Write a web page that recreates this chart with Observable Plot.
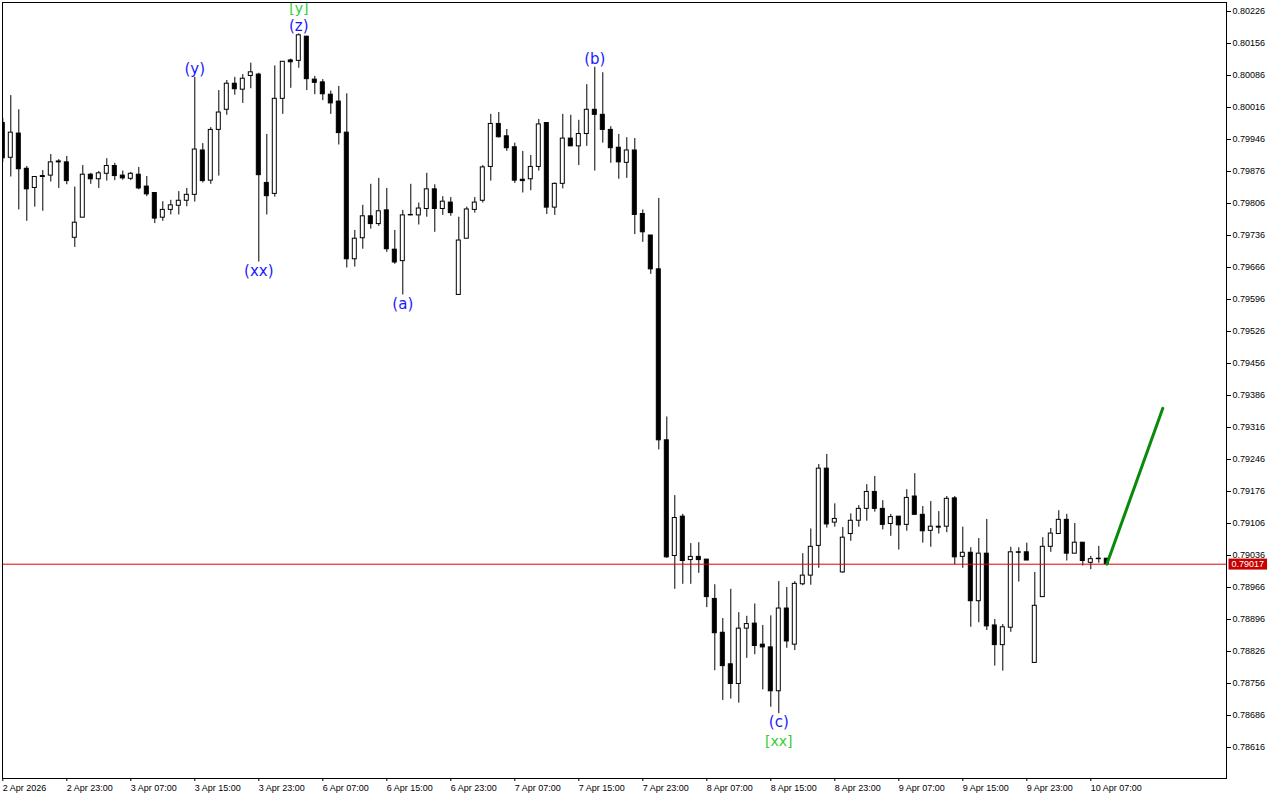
<!DOCTYPE html>
<html><head><meta charset="utf-8">
<script src="https://cdn.jsdelivr.net/npm/d3@7"></script>
<script src="https://cdn.jsdelivr.net/npm/@observablehq/plot@0.6"></script>
<style>html,body{margin:0;padding:0;background:#fff;overflow:hidden}#chart svg{display:block}</style>
</head><body><div id="chart"></div>
<script>
// H1 candles, index 0 = 2 Apr 2026 15:00
const opens = [0.79982,0.79906,0.79959,0.79882,0.79840,0.79866,0.79867,0.79898,0.79896,0.79731,
0.79775,0.79869,0.79859,0.79871,0.79888,0.79867,0.79860,0.79869,0.79843,0.79829,
0.79775,0.79792,0.79801,0.79812,0.79825,0.79922,0.79856,0.79967,0.80011,0.80068,
0.80055,0.80085,0.80088,0.79851,0.79827,0.80035,0.80119,0.80118,0.80171,0.80077,
0.80071,0.80044,0.80029,0.79961,0.79684,0.79730,0.79778,0.79761,0.79791,0.79705,
0.79680,0.79781,0.79780,0.79794,0.79837,0.79794,0.79808,0.79606,0.79729,0.79792,
0.79812,0.79886,0.79980,0.79953,0.79929,0.79858,0.79859,0.79886,0.79982,0.79797,
0.79849,0.79948,0.79931,0.79958,0.80011,0.80000,0.79967,0.79928,0.79895,0.79922,
0.79783,0.79736,0.79662,0.79288,0.79035,0.79121,0.79026,0.79033,0.79027,0.78941,
0.78867,0.78798,0.78755,0.78876,0.78887,0.78841,0.78835,0.78739,0.78920,0.78841,
0.78973,0.78992,0.79057,0.79226,0.79108,0.78999,0.79083,0.79112,0.79138,0.79175,
0.79138,0.79105,0.79121,0.79103,0.79165,0.79125,0.79090,0.79099,0.79099,0.79161,
0.79033,0.79042,0.78936,0.79040,0.78883,0.78840,0.78878,0.79043,0.79043,0.78801,
0.78945,0.79055,0.79083,0.79114,0.79040,0.79064,0.79020,0.79029,0.79029];
const highs = [0.79992,0.80042,0.80011,0.79887,0.79864,0.79878,0.79913,0.79902,0.79909,0.79842,
0.79889,0.79872,0.79876,0.79904,0.79894,0.79877,0.79874,0.79885,0.79865,0.79830,
0.79810,0.79813,0.79832,0.79839,0.80082,0.79937,0.79972,0.80053,0.80075,0.80082,
0.80088,0.80113,0.80091,0.79957,0.80107,0.80116,0.80122,0.80177,0.80171,0.80084,
0.80077,0.80052,0.80062,0.80046,0.79747,0.79802,0.79848,0.79861,0.79839,0.79747,
0.79791,0.79848,0.79807,0.79872,0.79847,0.79821,0.79819,0.79776,0.79798,0.79819,
0.79889,0.80001,0.80005,0.79968,0.79938,0.79920,0.79911,0.79990,0.79982,0.79851,
0.80001,0.79999,0.79988,0.80066,0.80104,0.80092,0.79974,0.79957,0.79950,0.79948,
0.79792,0.79736,0.79817,0.79339,0.79167,0.79126,0.79062,0.79064,0.79027,0.78972,
0.78898,0.78962,0.78911,0.78903,0.78930,0.78883,0.78904,0.78979,0.78966,0.78979,
0.79040,0.79094,0.79235,0.79257,0.79149,0.79097,0.79127,0.79145,0.79191,0.79209,
0.79156,0.79126,0.79121,0.79180,0.79215,0.79143,0.79154,0.79132,0.79165,0.79165,
0.79098,0.79053,0.79073,0.79115,0.78896,0.78885,0.79054,0.79053,0.79063,0.78999,
0.79075,0.79095,0.79134,0.79126,0.79106,0.79064,0.79034,0.79056,0.79029];
const lows = [0.79896,0.79864,0.79792,0.79767,0.79798,0.79789,0.79853,0.79839,0.79847,0.79710,
0.79775,0.79848,0.79839,0.79855,0.79856,0.79857,0.79856,0.79836,0.79821,0.79762,
0.79767,0.79781,0.79781,0.79799,0.79809,0.79851,0.79848,0.79866,0.79999,0.80043,
0.80025,0.80057,0.79678,0.79781,0.79820,0.80001,0.80058,0.80102,0.80053,0.80044,
0.80031,0.80001,0.79934,0.79665,0.79667,0.79706,0.79750,0.79756,0.79699,0.79673,
0.79606,0.79779,0.79759,0.79776,0.79743,0.79780,0.79778,0.79606,0.79729,0.79785,
0.79807,0.79855,0.79949,0.79920,0.79850,0.79829,0.79834,0.79877,0.79782,0.79780,
0.79838,0.79931,0.79889,0.79931,0.79877,0.79938,0.79894,0.79859,0.79861,0.79738,
0.79721,0.79651,0.79267,0.79030,0.78962,0.78973,0.78973,0.78997,0.78922,0.78784,
0.78719,0.78722,0.78713,0.78811,0.78819,0.78742,0.78704,0.78690,0.78833,0.78828,
0.78970,0.78971,0.79008,0.79096,0.79098,0.78997,0.79067,0.79098,0.79111,0.79131,
0.79092,0.79078,0.79048,0.79089,0.79125,0.79063,0.79054,0.79083,0.79086,0.79016,
0.79008,0.78879,0.78889,0.78872,0.78794,0.78783,0.78868,0.78978,0.79025,0.78801,
0.78945,0.79043,0.79083,0.79024,0.79040,0.79013,0.79005,0.79019,0.79017];
const closes = [0.79905,0.79961,0.79881,0.79837,0.79864,0.79864,0.79896,0.79896,0.79855,0.79764,
0.79869,0.79859,0.79872,0.79888,0.79866,0.79861,0.79871,0.79839,0.79826,0.79773,
0.79792,0.79802,0.79812,0.79825,0.79924,0.79855,0.79967,0.80005,0.80068,0.80056,
0.80079,0.80093,0.79868,0.79822,0.80035,0.80116,0.80115,0.80174,0.80078,0.80070,
0.80045,0.80025,0.79960,0.79684,0.79729,0.79778,0.79761,0.79789,0.79706,0.79677,
0.79780,0.79780,0.79795,0.79837,0.79794,0.79810,0.79785,0.79725,0.79793,0.79808,
0.79885,0.79980,0.79951,0.79927,0.79856,0.79855,0.79886,0.79979,0.79797,0.79849,
0.79948,0.79931,0.79958,0.80011,0.80000,0.79967,0.79927,0.79896,0.79922,0.79781,
0.79743,0.79662,0.79288,0.79032,0.79118,0.79024,0.79033,0.79026,0.78945,0.78866,
0.78794,0.78755,0.78876,0.78886,0.78838,0.78835,0.78739,0.78920,0.78848,0.78974,
0.78992,0.79055,0.79226,0.79104,0.79116,0.79075,0.79112,0.79138,0.79175,0.79138,
0.79103,0.79120,0.79102,0.79162,0.79125,0.79089,0.79099,0.79097,0.79160,0.79032,
0.79042,0.78936,0.79040,0.78881,0.78840,0.78879,0.79043,0.79042,0.79025,0.78926,
0.79055,0.79084,0.79114,0.79040,0.79064,0.79024,0.79028,0.79028,0.79017];

const xTickIndex = [0,8,16,24,32,40,48,56,64,72,80,88,96,104,112,120,128,136];
const xTickLabels = ["2 Apr 2026","2 Apr 23:00","3 Apr 07:00","3 Apr 15:00","3 Apr 23:00","6 Apr 07:00",
"6 Apr 15:00","6 Apr 23:00","7 Apr 07:00","7 Apr 15:00","7 Apr 23:00","8 Apr 07:00","8 Apr 15:00",
"8 Apr 23:00","9 Apr 07:00","9 Apr 15:00","9 Apr 23:00","10 Apr 07:00"];
const yTicks = [0.78616,0.78686,0.78756,0.78826,0.78896,0.78966,0.79036,0.79106,0.79176,0.79246,
0.79316,0.79386,0.79456,0.79526,0.79596,0.79666,0.79736,0.79806,0.79876,0.79946,0.80016,0.80086,
0.80156,0.80226];
const currentPrice = 0.79017;

const waveText  = ["(y)","(xx)","[y]","(z)","(a)","(b)","(c)","[xx]"];
const waveIndex = [24,32,37,37,50,74,97,97];
const waveSide  = ["top","bottom","top","top","bottom","top","bottom","bottom"];

const forecastIndex = [138,145];
const forecastPrice = [0.79017,0.79358];

const candles = opens.map((o,i)=>({i, o, h: highs[i], l: lows[i], c: closes[i]}));
const waves = waveText.map((t,k)=>{
  const d = candles[waveIndex[k]];
  const top = waveSide[k]==="top";
  return {t, i:d.i, p: top ? d.h : d.l, top, bracket: t.startsWith("[")};
});
const forecast = forecastIndex.map((i,k)=>({i, p: forecastPrice[k]}));

const waveFont = "'DejaVu Sans', sans-serif";
const waveMark = (top, bracket, dy) => Plot.text(waves.filter(w=>w.top===top && w.bracket===bracket), {
  x:"i", y:"p", text:"t", dy, fontSize: bracket ? 14 : 15, fontFamily: waveFont,
  fill: bracket ? "#33cc33" : "#1a1aff", lineAnchor:"middle"
});

const chart = Plot.plot({
  width:1280, height:800,
  marginLeft:2, marginRight:54, marginTop:2, marginBottom:22,
  style:{background:"#fff", fontFamily:"'Liberation Sans', Arial, sans-serif", fontSize:"9px", color:"#000"},
  x:{domain:[-0.0375,152.9625], label:null},
  y:{domain:[0.785482,0.802457], label:null},
  marks:[
    Plot.ruleX(candles, {x:"i", y1:"l", y2:"h", stroke:"#000", strokeWidth:1, clip:true}),
    Plot.rect(candles, {x1:d=>d.i-0.25, x2:d=>d.i+0.25, y1:"o", y2:"c",
      fill:d=>d.c>=d.o ? "#ffffff" : "#000000", stroke:"#000", strokeWidth:1, clip:true}),
    Plot.ruleY(candles.filter(d=>d.o===d.c), {y:"o", x1:d=>d.i-0.3, x2:d=>d.i+0.3, stroke:"#000", clip:true}),
    Plot.ruleY([currentPrice], {stroke:"#e00000", strokeWidth:1}),
    Plot.line(forecast, {x:"i", y:"p", stroke:"#0a8a0a", strokeWidth:3}),
    waveMark(true,false,-8),
    waveMark(true,true,-25),
    waveMark(false,false,9),
    waveMark(false,true,28),
    Plot.frame({stroke:"#000"}),
    Plot.axisY({anchor:"right", ticks:yTicks, tickFormat:d=>d.toFixed(5), tickSize:4, tickPadding:2, fontSize:9, label:null}),
    Plot.axisX({anchor:"bottom", ticks:xTickIndex, tickFormat:d=>xTickLabels[xTickIndex.indexOf(d)],
      tickSize:3, tickPadding:3, textAnchor:"start", fontSize:9, label:null}),
    Plot.text([currentPrice], {y:d=>d, frameAnchor:"right", dx:5, textAnchor:"start",
      text:d=>d.toFixed(5), fill:"#ffffff", fontSize:9, className:"price-tag"})
  ]
});
document.getElementById("chart").append(chart);

// red background box behind the current-price tag
const tagTexts = d3.select(chart).selectAll("text").filter(function(){
  return this.textContent === currentPrice.toFixed(5) && this.closest("g.price-tag, g[fill='#ffffff'], g[fill='white']");
});
tagTexts.each(function(){
  const b = this.getBBox();
  const r = d3.select(this.parentNode).insert("rect", "text")
    .attr("x", b.x - 3).attr("y", b.y - 0.5)
    .attr("width", b.width + 6).attr("height", b.height + 1)
    .attr("fill", "#c80000");
  const tr = this.getAttribute("transform");
  if (tr) r.attr("transform", tr);
});
</script>
</body></html>
